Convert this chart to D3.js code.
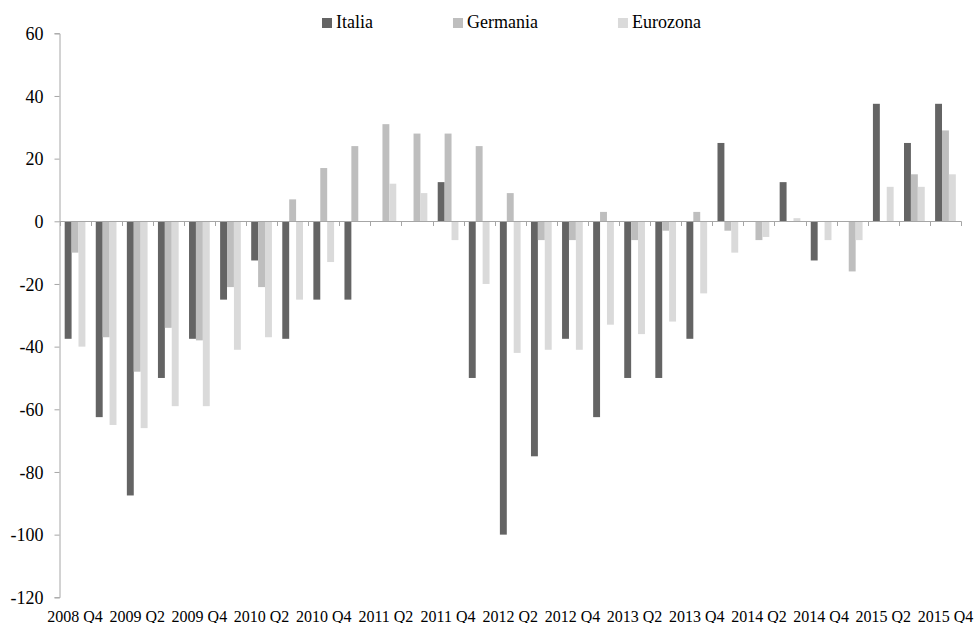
<!DOCTYPE html>
<html>
<head>
<meta charset="utf-8">
<script src="https://cdn.jsdelivr.net/npm/d3@7"></script>
<style>
  html, body { margin: 0; padding: 0; background: #fff; }
  svg { display: block; }
  text { font-family: "Liberation Serif", "Times New Roman", serif; fill: #000; }
</style>
</head>
<body>
<svg id="chart" width="975" height="623"></svg>
<script>
// Quarters shown on the category axis
const quarters = [
  "2008 Q4", "2009 Q1", "2009 Q2", "2009 Q3", "2009 Q4",
  "2010 Q1", "2010 Q2", "2010 Q3", "2010 Q4",
  "2011 Q1", "2011 Q2", "2011 Q3", "2011 Q4",
  "2012 Q1", "2012 Q2", "2012 Q3", "2012 Q4",
  "2013 Q1", "2013 Q2", "2013 Q3", "2013 Q4",
  "2014 Q1", "2014 Q2", "2014 Q3", "2014 Q4",
  "2015 Q1", "2015 Q2", "2015 Q3", "2015 Q4"
];

// Balance of answers per quarter
const italia = [-37.5, -62.5, -87.5, -50, -37.5, -25, -12.5, -37.5, -25,
  -25, 0, 0, 12.5, -50, -100, -75, -37.5, -62.5, -50, -50, -37.5,
  25, 0, 12.5, -12.5, 0, 37.5, 25, 37.5];
const germania = [-10, -37, -48, -34, -38, -21, -21, 7, 17,
  24, 31, 28, 28, 24, 9, -6, -6, 3, -6, -3, 3,
  -3, -6, 0, 0, -16, 0, 15, 29];
const eurozona = [-40, -65, -66, -59, -59, -41, -37, -25, -13,
  0, 12, 9, -6, -20, -42, -41, -41, -33, -36, -32, -23,
  -10, -5, 1, -6, -6, 11, 11, 15];

const seriesNames = ["Italia", "Germania", "Eurozona"];
const seriesValues = [italia, germania, eurozona];
const seriesColors = ["#646464", "#bebebe", "#dadada"];

// Value axis
const yTicks = [-120, -100, -80, -60, -40, -20, 0, 20, 40, 60];

const svg = d3.select("#chart");
const axisColor = "#a6a6a6";

const plot = { left: 59.5, right: 961, top: 33.3, bottom: 597.3 };

const x = d3.scaleBand()
  .domain(quarters)
  .range([plot.left, plot.right])
  .paddingInner(0)
  .paddingOuter(0);

const xSeries = d3.scaleBand()
  .domain(seriesNames)
  .range([0, x.bandwidth()])
  .paddingInner(0)
  .paddingOuter(0.75);

const y = d3.scaleLinear()
  .domain([yTicks[0], yTicks[yTicks.length - 1]])
  .range([plot.bottom, plot.top]);

const color = d3.scaleOrdinal().domain(seriesNames).range(seriesColors);

// Bars
const rows = [];
quarters.forEach((q, i) => {
  seriesNames.forEach((s, k) => {
    rows.push({ quarter: q, series: s, value: seriesValues[k][i] });
  });
});

svg.append("g")
  .selectAll("rect")
  .data(rows.filter(d => d.value !== 0))
  .join("rect")
  .attr("x", d => x(d.quarter) + xSeries(d.series))
  .attr("width", xSeries.bandwidth())
  .attr("y", d => y(Math.max(0, d.value)))
  .attr("height", d => Math.abs(y(d.value) - y(0)))
  .attr("fill", d => color(d.series));

// Value axis on the left (plain hyphen for negatives)
const yAxis = svg.append("g")
  .attr("transform", `translate(${plot.left},0)`)
  .call(d3.axisLeft(y).tickValues(yTicks).tickSize(5).tickPadding(11).tickFormat(d => String(d)));
yAxis.attr("font-family", null).attr("font-size", null);
yAxis.select(".domain").attr("stroke", axisColor);
yAxis.selectAll(".tick line").attr("stroke", axisColor);
yAxis.selectAll(".tick text")
  .attr("font-size", 18)
  .attr("fill", "#000")
  .attr("dy", "0.34em");

// Category axis crossing at zero
const y0 = Math.round(y(0)) + 0.5;
const xAxis = svg.append("g");
xAxis.append("line")
  .attr("x1", plot.left).attr("x2", plot.right + 0.5)
  .attr("y1", y0).attr("y2", y0)
  .attr("stroke", axisColor);
const boundaries = quarters.map(q => x(q)).concat([x.range()[1]]);
xAxis.selectAll("line.tick")
  .data(boundaries)
  .join("line")
  .attr("class", "tick")
  .attr("x1", d => Math.round(d) + 0.5).attr("x2", d => Math.round(d) + 0.5)
  .attr("y1", y0).attr("y2", y0 + 4.5)
  .attr("stroke", axisColor);

// Category labels, every other quarter, under the plot
svg.append("g")
  .selectAll("text")
  .data(quarters.filter((q, i) => i % 2 === 0))
  .join("text")
  .attr("x", d => x(d) + x.bandwidth() / 2)
  .attr("y", 621.5)
  .attr("text-anchor", "middle")
  .attr("font-size", 16)
  .text(d => d);

// Legend
const legend = svg.append("g");
let lx = 322;
seriesNames.forEach(s => {
  legend.append("rect")
    .attr("x", lx).attr("y", 18)
    .attr("width", 10).attr("height", 10)
    .attr("fill", color(s));
  const t = legend.append("text")
    .attr("x", lx + 14).attr("y", 28.3)
    .attr("font-size", 18)
    .text(s);
  lx += 14 + t.node().getComputedTextLength() + 80;
});
</script>
</body>
</html>
